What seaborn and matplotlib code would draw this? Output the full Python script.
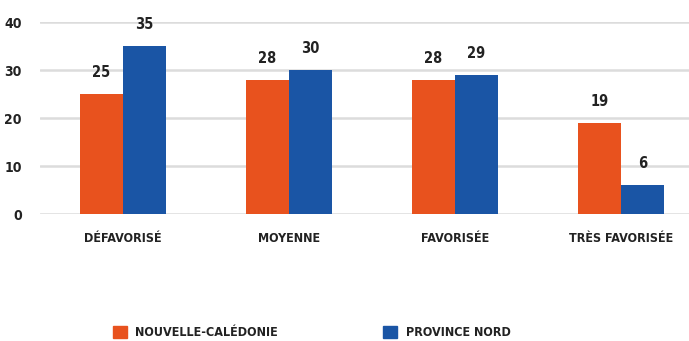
import matplotlib
matplotlib.use("Agg")
import matplotlib.pyplot as plt
from matplotlib import font_manager
import seaborn as sns
import pandas as pd

categories = ["DÉFAVORISÉ", "MOYENNE", "FAVORISÉE", "TRÈS FAVORISÉE"]
series_names = ["NOUVELLE-CALÉDONIE", "PROVINCE NORD"]
nouvelle_caledonie = [25, 28, 28, 19]
province_nord = [35, 30, 29, 6]
y_ticks = [0, 10, 20, 30, 40]

colors = ["#E8521E", "#1A55A5"]

sns.set_theme(style="white")
names = {f.name for f in font_manager.fontManager.ttflist}
narrow = [n for n in ["Liberation Sans Narrow", "DejaVu Sans Condensed"] if n in names]
plt.rcParams["font.family"] = narrow + ["DejaVu Sans"]
plt.rcParams["font.stretch"] = "condensed"

rows = []
for cat, a, b in zip(categories, nouvelle_caledonie, province_nord):
    rows.append({"cat": cat, "serie": series_names[0], "val": a})
    rows.append({"cat": cat, "serie": series_names[1], "val": b})
df = pd.DataFrame(rows)

fig = plt.figure(figsize=(6.89, 3.41), dpi=100)
ax = fig.add_axes([0.058, 0.372, 0.942, 0.563])

sns.barplot(data=df, x="cat", y="val", hue="serie", hue_order=series_names,
            palette=colors, width=0.52, saturation=1, ax=ax, legend=False,
            linewidth=0, zorder=3)

ax.set_ylim(0, 40)
ax.set_xlim(-0.5, 3.41)
ax.set_yticks(y_ticks)
ax.yaxis.grid(True, color="#dcdcdc", linewidth=1.8, zorder=0)
ax.set_axisbelow(True)
for s in ax.spines.values():
    s.set_visible(False)
ax.set_xlabel("")
ax.set_ylabel("")
ax.tick_params(axis="y", length=0, pad=13, labelsize=10, labelcolor="#222222")
ax.tick_params(axis="x", length=0, pad=13, labelsize=9, labelcolor="#222222")
for lab in ax.get_xticklabels() + ax.get_yticklabels():
    lab.set_fontweight("bold")

for cont in ax.containers:
    ax.bar_label(cont, fmt="%g", padding=10, fontsize=10.5, fontweight="bold",
                 color="#222222")

for name, col, x0 in zip(series_names, colors, [0.164, 0.556]):
    h = plt.Rectangle((0, 0), 1, 1, color=col)
    leg = fig.legend([h], [name], loc="center left", bbox_to_anchor=(x0, 0.025),
                     frameon=False, handlelength=1.1, handleheight=1.1,
                     handletextpad=0.7, borderpad=0, borderaxespad=0,
                     prop={"size": 9, "weight": "bold"})
    for t in leg.get_texts():
        t.set_color("#222222")

fig.savefig("out.png", dpi=100)
